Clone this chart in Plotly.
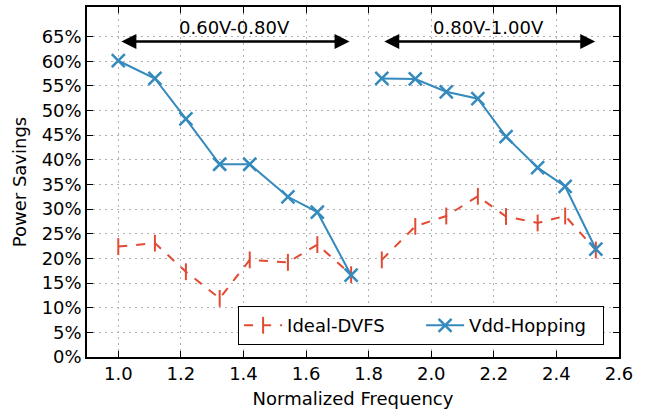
import plotly.graph_objects as go

freq_low = [1.0, 1.117, 1.216, 1.324, 1.420, 1.542, 1.636, 1.744]
freq_high = [1.842, 1.949, 2.048, 2.149, 2.239, 2.340, 2.428, 2.526]

vdd_low = [0.601, 0.565, 0.483, 0.391, 0.391, 0.325, 0.294, 0.166]
vdd_high = [0.565, 0.564, 0.538, 0.524, 0.447, 0.384, 0.346, 0.219]

dvfs_low = [0.224, 0.231, 0.173, 0.119, 0.197, 0.192, 0.228, 0.167]
dvfs_high = [0.197, 0.265, 0.286, 0.326, 0.285, 0.272, 0.286, 0.217]

x_ticks = [1.0, 1.2, 1.4, 1.6, 1.8, 2.0, 2.2, 2.4, 2.6]
y_ticks = [i * 0.05 for i in range(14)]

ranges = [("0.60V-0.80V", 1.005, 1.739), ("0.80V-1.00V", 1.845, 2.524)]

BLUE = "#348ABD"
RED = "#E24A33"
FONT = "DejaVu Sans"
FS = 18

x_all = freq_low + [None] + freq_high

fig = go.Figure()
fig.add_trace(go.Scatter(
    x=x_all, y=dvfs_low + [None] + dvfs_high, name="Ideal-DVFS",
    mode="lines+markers",
    line=dict(color=RED, width=2, dash="dash"),
    marker=dict(symbol="line-ns-open", size=12, color=RED, line=dict(color=RED, width=2)),
    connectgaps=False,
))
fig.add_trace(go.Scatter(
    x=x_all, y=vdd_low + [None] + vdd_high, name="Vdd-Hopping",
    mode="lines+markers",
    line=dict(color=BLUE, width=2),
    marker=dict(symbol="x-thin-open", size=13, color=BLUE, line=dict(color=BLUE, width=2.5)),
    connectgaps=False,
))

for label, x0, x1 in ranges:
    fig.add_annotation(x=x1, y=0.64, ax=x0, ay=0.64, xref="x", yref="y", axref="x", ayref="y",
                       text="", showarrow=True, arrowhead=2, arrowside="end+start",
                       arrowsize=1.2, arrowwidth=2.5, arrowcolor="black", standoff=0, startstandoff=0)
    fig.add_annotation(x=(x0 + x1) / 2, y=0.669, xref="x", yref="y", text=label, showarrow=False,
                       font=dict(family=FONT, size=FS, color="black"))

axis_common = dict(
    showline=True, linecolor="black", linewidth=1.5, mirror="ticks",
    ticks="inside", ticklen=6, tickwidth=1, tickcolor="black",
    showgrid=True, gridcolor="#b0b0b0", griddash="2px,4px", gridwidth=1,
    zeroline=False, tickfont=dict(family=FONT, size=FS, color="black"),
    automargin=False,
)

fig.update_xaxes(range=[0.9, 2.6], tickvals=x_ticks, tickformat=".1f",
                 title=dict(text="Normalized Frequency", font=dict(family=FONT, size=FS, color="black"), standoff=9),
                 **axis_common)
fig.update_yaxes(range=[0, 0.71], tickvals=y_ticks, tickformat=".0%",
                 title=dict(text="Power Savings", font=dict(family=FONT, size=FS, color="black"), standoff=10),
                 **axis_common)

fig.update_layout(
    width=651, height=412,
    margin=dict(l=87, r=32, t=7, b=55),
    plot_bgcolor="white", paper_bgcolor="white",
    font=dict(family=FONT, size=FS, color="black"),
    legend=dict(orientation="h", x=0.972, y=0.034, xanchor="right", yanchor="bottom",
                bordercolor="black", borderwidth=1, bgcolor="white",
                font=dict(family=FONT, size=FS, color="black"),
                entrywidth=129, itemwidth=38),
    showlegend=True,
)

fig.write_html("out.html", config={"displayModeBar": False},
               post_script="document.body.style.margin='0';document.body.style.overflow='hidden';")
